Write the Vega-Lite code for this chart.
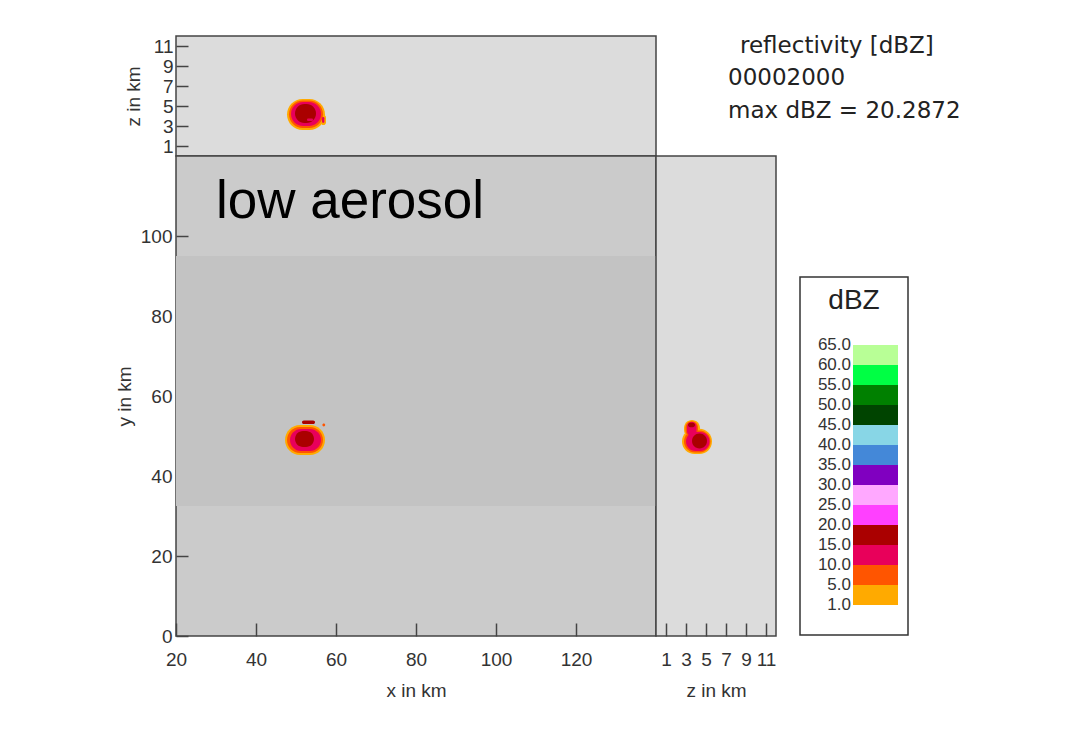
{
  "$schema": "https://vega.github.io/schema/vega-lite/v6.json",
  "background": "white",
  "padding": {"left": 114, "top": 35, "right": 10, "bottom": 10},
  "config": {
    "view": {"stroke": "#444", "strokeWidth": 1.5},
    "axis": {
      "labelFont": "Liberation Sans", "labelFontSize": 19, "labelColor": "#333", "labelFlush": false,
      "titleFont": "Liberation Sans", "titleFontSize": 19, "titleFontWeight": "normal", "titleColor": "#333",
      "tickColor": "#444", "tickWidth": 1.5, "grid": false, "domain": false
    },
    "text": {"font": "Liberation Sans", "color": "#222"}
  },
  "datasets": {
    "blobs": [
      {"panel": "xy", "band": "1–5", "a1": 47.25, "a2": 57.25, "b1": 45.25, "b2": 52.75},
      {"panel": "xy", "band": "5–10", "a1": 47.75, "a2": 56.75, "b1": 45.75, "b2": 52.25},
      {"panel": "xy", "band": "10–15", "a1": 48.5, "a2": 56.25, "b1": 46.25, "b2": 51.75},
      {"panel": "xy", "band": "15–20", "a1": 49.75, "a2": 54.5, "b1": 47.25, "b2": 51.25},
      {"panel": "xy", "band": "15–20", "a1": 51.5, "a2": 54.75, "b1": 53.0, "b2": 53.9},
      {"panel": "xy", "band": "5–10", "a1": 56.6, "a2": 57.3, "b1": 52.4, "b2": 53.1},
      {"panel": "xz", "band": "1–5", "a1": 47.75, "a2": 57.25, "b1": 2.6, "b2": 5.7},
      {"panel": "xz", "band": "1–5", "a1": 56.2, "a2": 57.5, "b1": 3.1, "b2": 4.1},
      {"panel": "xz", "band": "5–10", "a1": 48.25, "a2": 56.75, "b1": 2.8, "b2": 5.55},
      {"panel": "xz", "band": "10–15", "a1": 48.75, "a2": 56.25, "b1": 3.0, "b2": 5.4},
      {"panel": "xz", "band": "10–15", "a1": 56.5, "a2": 57.1, "b1": 3.3, "b2": 3.9},
      {"panel": "xz", "band": "15–20", "a1": 49.75, "a2": 55.0, "b1": 3.3, "b2": 5.2},
      {"panel": "xz", "band": "10–15", "a1": 52.75, "a2": 54.25, "b1": 3.5, "b2": 3.75},
      {"panel": "zy", "band": "1–5", "a1": 2.6, "a2": 5.6, "b1": 45.5, "b2": 51.8},
      {"panel": "zy", "band": "1–5", "a1": 2.8, "a2": 4.4, "b1": 49.5, "b2": 54.0},
      {"panel": "zy", "band": "5–10", "a1": 2.8, "a2": 5.45, "b1": 45.9, "b2": 51.4},
      {"panel": "zy", "band": "5–10", "a1": 2.95, "a2": 4.2, "b1": 49.8, "b2": 53.7},
      {"panel": "zy", "band": "10–15", "a1": 3.0, "a2": 5.35, "b1": 46.25, "b2": 51.0},
      {"panel": "zy", "band": "10–15", "a1": 3.1, "a2": 4.05, "b1": 50.0, "b2": 53.5},
      {"panel": "zy", "band": "15–20", "a1": 3.6, "a2": 5.1, "b1": 46.9, "b2": 50.6},
      {"panel": "zy", "band": "15–20", "a1": 3.2, "a2": 3.9, "b1": 52.2, "b2": 53.3}
    ],
    "scalebands": [
      {"band": "1–5", "k1": 1.55, "k2": 2.55},
      {"band": "5–10", "k1": 2.55, "k2": 3.55},
      {"band": "10–15", "k1": 3.55, "k2": 4.55},
      {"band": "15–20", "k1": 4.55, "k2": 5.55},
      {"band": "20–25", "k1": 5.55, "k2": 6.55},
      {"band": "25–30", "k1": 6.55, "k2": 7.55},
      {"band": "30–35", "k1": 7.55, "k2": 8.55},
      {"band": "35–40", "k1": 8.55, "k2": 9.55},
      {"band": "40–45", "k1": 9.55, "k2": 10.55},
      {"band": "45–50", "k1": 10.55, "k2": 11.55},
      {"band": "50–55", "k1": 11.55, "k2": 12.55},
      {"band": "55–60", "k1": 12.55, "k2": 13.55},
      {"band": "60–65", "k1": 13.55, "k2": 14.55}
    ],
    "scalelabels": [
      {"label": "1.0", "k": 1.55}, {"label": "5.0", "k": 2.55}, {"label": "10.0", "k": 3.55},
      {"label": "15.0", "k": 4.55}, {"label": "20.0", "k": 5.55}, {"label": "25.0", "k": 6.55},
      {"label": "30.0", "k": 7.55}, {"label": "35.0", "k": 8.55}, {"label": "40.0", "k": 9.55},
      {"label": "45.0", "k": 10.55}, {"label": "50.0", "k": 11.55}, {"label": "55.0", "k": 12.55},
      {"label": "60.0", "k": 13.55}, {"label": "65.0", "k": 14.55}
    ]
  },
  "columns": 3,
  "spacing": 0,
  "bounds": "flush",
  "align": "each",
  "concat": [
    {
      "width": 480, "height": 120,
      "view": {"fill": "#dcdcdc"},
      "data": {"name": "blobs"},
      "transform": [{"filter": "datum.panel === 'xz'"}],
      "mark": {"type": "rect", "cornerRadius": 999},
      "encoding": {
        "x": {"field": "a1", "type": "quantitative", "scale": {"domain": [20, 140], "nice": false, "zero": false}, "axis": null},
        "x2": {"field": "a2"},
        "y": {"field": "b1", "type": "quantitative", "scale": {"domain": [0, 12], "nice": false, "zero": false},
              "axis": {"values": [1, 3, 5, 7, 9, 11], "tickSize": -12, "labelPadding": 15, "title": "z in km", "titlePadding": 10}},
        "y2": {"field": "b2"},
        "color": {"field": "band", "type": "nominal", "legend": null,
          "scale": {"domain": ["1–5","5–10","10–15","15–20","20–25","25–30","30–35","35–40","40–45","45–50","50–55","55–60","60–65"],
                    "range": ["#ffaa00","#ff5500","#e8005a","#aa0000","#ff40ff","#ffa8ff","#8000c0","#4488d8","#88d6e6","#004400","#008000","#00ff44","#b8ff96"]}}
      }
    },
    {
      "width": 120, "height": 120,
      "view": {"stroke": null},
      "data": {"values": [
        {"t": "reflectivity [dBZ]", "px": 8.4, "py": 11.0},
        {"t": "00002000", "px": 7.2, "py": 7.8},
        {"t": "max dBZ = 20.2872", "px": 7.2, "py": 4.5}
      ]},
      "mark": {"type": "text", "align": "left", "baseline": "middle", "fontSize": 23, "font": "DejaVu Sans", "color": "#222"},
      "encoding": {
        "x": {"field": "px", "type": "quantitative", "scale": {"domain": [0, 12], "nice": false, "zero": false}, "axis": null},
        "y": {"field": "py", "type": "quantitative", "scale": {"domain": [0, 12], "nice": false, "zero": false}, "axis": null},
        "text": {"field": "t"}
      }
    },
    {
      "width": 132, "height": 120,
      "view": {"stroke": null},
      "data": {"values": [{"t": ""}]},
      "mark": {"type": "text"},
      "encoding": {"text": {"field": "t"}}
    },
    {
      "width": 480, "height": 480,
      "view": {"fill": "#cbcbcb"},
      "layer": [
        {
          "data": {"values": [{"x1": 20, "x2": 140, "y1": 32.5, "y2": 95}]},
          "mark": {"type": "rect", "color": "#c3c3c3"},
          "encoding": {
            "x": {"field": "x1", "type": "quantitative", "scale": {"domain": [20, 140], "nice": false, "zero": false},
                  "axis": {"values": [20, 40, 60, 80, 100, 120], "tickSize": -13, "labelPadding": 27, "title": "x in km", "titlePadding": 12}},
            "x2": {"field": "x2"},
            "y": {"field": "y1", "type": "quantitative", "scale": {"domain": [0, 120], "nice": false, "zero": false},
                  "axis": {"values": [0, 20, 40, 60, 80, 100], "tickSize": -12, "labelPadding": 16, "title": "y in km", "titlePadding": 6}},
            "y2": {"field": "y2"}
          }
        },
        {
          "data": {"name": "blobs"},
          "transform": [{"filter": "datum.panel === 'xy'"}],
          "mark": {"type": "rect", "cornerRadius": 999},
          "encoding": {
            "x": {"field": "a1", "type": "quantitative"},
            "x2": {"field": "a2"},
            "y": {"field": "b1", "type": "quantitative"},
            "y2": {"field": "b2"},
            "color": {"field": "band", "type": "nominal", "legend": null}
          }
        },
        {
          "data": {"values": [{"t": "low aerosol", "x": 30, "y": 104.5}]},
          "mark": {"type": "text", "align": "left", "baseline": "alphabetic", "fontSize": 53, "font": "Liberation Sans", "color": "#000"},
          "encoding": {
            "x": {"field": "x", "type": "quantitative"},
            "y": {"field": "y", "type": "quantitative"},
            "text": {"field": "t"}
          }
        }
      ]
    },
    {
      "width": 120, "height": 480,
      "view": {"fill": "#dcdcdc"},
      "data": {"name": "blobs"},
      "transform": [{"filter": "datum.panel === 'zy'"}],
      "mark": {"type": "rect", "cornerRadius": 999},
      "encoding": {
        "x": {"field": "a1", "type": "quantitative", "scale": {"domain": [0, 12], "nice": false, "zero": false},
              "axis": {"values": [1, 3, 5, 7, 9, 11], "tickSize": -13, "labelPadding": 27, "title": "z in km", "titlePadding": 12}},
        "x2": {"field": "a2"},
        "y": {"field": "b1", "type": "quantitative", "scale": {"domain": [0, 120], "nice": false, "zero": false}, "axis": null},
        "y2": {"field": "b2"},
        "color": {"field": "band", "type": "nominal", "legend": null}
      }
    },
    {
      "width": 132, "height": 480,
      "view": {"stroke": null},
      "layer": [
        {
          "data": {"values": [{"x1": 2.4, "x2": 13.2, "y1": 0.05, "y2": 17.95}]},
          "mark": {"type": "rect", "fill": "white", "stroke": "#333", "strokeWidth": 1.5},
          "encoding": {
            "x": {"field": "x1", "type": "quantitative", "scale": {"domain": [0, 13.2], "nice": false, "zero": false}, "axis": null},
            "x2": {"field": "x2"},
            "y": {"field": "y1", "type": "quantitative", "scale": {"domain": [0, 24], "nice": false, "zero": false}, "axis": null},
            "y2": {"field": "y2"}
          }
        },
        {
          "data": {"name": "scalebands"},
          "transform": [{"calculate": "7.7", "as": "bx1"}, {"calculate": "12.2", "as": "bx2"}],
          "mark": {"type": "rect"},
          "encoding": {
            "x": {"field": "bx1", "type": "quantitative"},
            "x2": {"field": "bx2"},
            "y": {"field": "k1", "type": "quantitative"},
            "y2": {"field": "k2"},
            "color": {"field": "band", "type": "nominal", "legend": null}
          }
        },
        {
          "data": {"name": "scalelabels"},
          "transform": [{"calculate": "7.5", "as": "lx"}],
          "mark": {"type": "text", "align": "right", "baseline": "middle", "fontSize": 17, "color": "#333"},
          "encoding": {
            "x": {"field": "lx", "type": "quantitative"},
            "y": {"field": "k", "type": "quantitative"},
            "text": {"field": "label"}
          }
        },
        {
          "data": {"values": [{"t": "dBZ", "x": 7.8, "y": 16.75}]},
          "mark": {"type": "text", "align": "center", "baseline": "middle", "fontSize": 28, "color": "#222"},
          "encoding": {
            "x": {"field": "x", "type": "quantitative"},
            "y": {"field": "y", "type": "quantitative"},
            "text": {"field": "t"}
          }
        }
      ]
    }
  ]
}
